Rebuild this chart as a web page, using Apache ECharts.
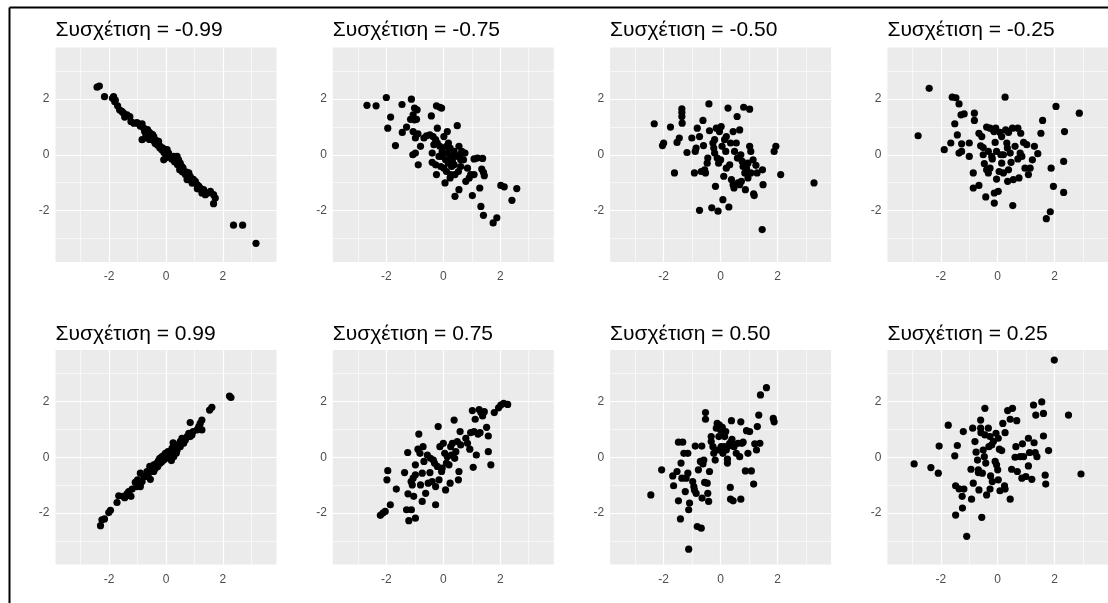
<!DOCTYPE html>
<html>
<head>
<meta charset="utf-8">
<script src="https://cdn.jsdelivr.net/npm/echarts@6/dist/echarts.min.js"></script>
<style>
html,body{margin:0;padding:0;background:#fff;}
#c{width:1108px;height:603px;}
</style>
</head>
<body>
<div id="c"></div>
<script>
const TITLES = ['Συσχέτιση = -0.99','Συσχέτιση = -0.75','Συσχέτιση = -0.50','Συσχέτιση = -0.25',
                'Συσχέτιση = 0.99','Συσχέτιση = 0.75','Συσχέτιση = 0.50','Συσχέτιση = 0.25'];
const MAJOR_TICKS = [-2, 0, 2];
const MINOR_TICKS = [-3, -1, 1, 3];

const corrNeg99 = [[-2.42,2.42],[-2.34,2.46],[-2.16,2.08],[-1.84,2.08],[-1.78,1.96],[-1.80,1.90],[-1.70,1.75],[-1.63,1.61],[-1.55,1.55],[-1.49,1.49],[-1.37,1.43],[-1.27,1.37],[-1.23,1.19],[-1.13,1.13],[-1.02,1.15],[-0.95,1.10],[-0.84,1.11],[-0.78,0.95],[-0.84,0.54],[-0.75,0.83],[-0.70,0.70],[-0.67,0.77],[-0.65,0.90],[-0.61,0.65],[-0.58,0.55],[-0.55,0.77],[-0.52,0.68],[-0.49,0.60],[-0.45,0.55],[-0.43,0.65],[-0.41,0.48],[-0.38,0.40],[-0.35,0.52],[-0.32,0.42],[-0.30,0.35],[-0.26,0.48],[-0.22,0.25],[-0.20,0.30],[-0.15,0.18],[-0.11,0.24],[-0.08,0.10],[-0.05,0.05],[-0.02,0.12],[0.04,0.18],[0.09,0.06],[-0.08,-0.18],[0.02,-0.10],[0.15,-0.06],[0.20,-0.15],[0.27,-0.06],[0.30,-0.25],[0.39,-0.06],[0.44,-0.18],[0.40,-0.35],[0.50,-0.30],[0.56,-0.42],[0.48,-0.54],[0.52,-0.50],[0.62,-0.60],[0.60,-0.48],[0.68,-0.71],[0.72,-0.62],[0.80,-0.65],[0.85,-0.77],[0.74,-0.89],[0.78,-0.82],[0.91,-0.95],[0.96,-0.88],[1.03,-0.95],[1.09,-1.07],[1.15,-1.12],[1.20,-1.19],[1.32,-1.25],[1.26,-1.37],[1.38,-1.43],[1.45,-1.38],[1.56,-1.31],[1.67,-1.43],[1.73,-1.55],[1.67,-1.75],[2.37,-2.52],[2.69,-2.52],[3.16,-3.17],[-1.88,2.02],[-1.45,1.35],[-0.90,1.02],[-0.72,0.60],[-0.60,0.82],[-0.47,0.72],[0.06,-0.02],[0.34,-0.14],[0.58,-0.62],[0.92,-1.02],[1.10,-1.22]];

const corrNeg75 = [[-2.68,1.77],[-2.36,1.75],[-2.00,2.05],[-1.95,0.95],[-1.85,1.35],[-1.68,0.33],[-1.45,1.80],[-1.44,0.80],[-1.29,0.99],[-1.12,1.99],[-1.15,1.27],[-1.06,1.43],[-1.01,1.67],[-0.92,1.61],[-1.01,1.25],[-0.94,1.27],[-1.06,0.83],[-0.89,0.75],[-0.98,0.60],[-0.98,0.06],[-1.07,0.00],[-0.80,0.30],[-0.88,-0.36],[-0.68,0.60],[-0.59,0.68],[-0.47,0.71],[-0.42,1.39],[-0.36,0.65],[-0.27,0.54],[-0.21,0.95],[-0.24,1.75],[-0.12,1.70],[-0.06,1.67],[-0.33,0.36],[-0.21,0.42],[-0.39,0.06],[-0.39,-0.27],[-0.27,-0.36],[-0.24,-0.71],[-0.15,-0.06],[-0.12,0.30],[-0.04,0.12],[-0.09,-0.42],[0.02,0.65],[0.14,0.83],[0.08,-0.18],[0.14,0.06],[0.18,0.42],[0.24,0.24],[0.26,-0.06],[0.32,-0.24],[0.38,0.12],[0.38,-0.36],[0.02,-0.48],[0.06,-1.01],[0.24,-0.83],[0.41,-0.71],[0.49,1.04],[0.55,0.30],[0.59,0.00],[0.65,0.12],[0.71,-0.18],[0.61,-0.42],[0.53,-0.60],[0.41,-1.49],[0.55,-1.25],[0.85,-0.48],[0.79,-0.95],[0.91,-0.83],[0.96,-0.71],[1.08,-0.71],[1.02,-1.46],[1.08,-0.15],[1.20,-0.12],[1.38,-0.13],[1.28,-1.19],[1.35,-0.51],[1.41,-0.63],[1.44,-0.75],[1.32,-1.85],[1.41,-2.17],[1.75,-2.44],[1.88,-2.26],[2.02,-1.10],[2.14,-1.15],[2.41,-1.63],[2.58,-1.21],[0.76,0.06],[0.61,-0.18],[0.44,-0.06],[0.18,-0.30],[0.11,-0.60],[0.26,-0.71],[-0.04,-0.06],[0.11,0.30],[0.29,-0.42]];

const corrNeg50 = [[-2.33,1.11],[-2.04,0.33],[-2.00,0.42],[-1.76,0.99],[-1.62,-0.65],[-1.53,0.44],[-1.45,0.60],[-1.36,1.64],[-1.36,1.51],[-1.36,1.37],[-1.35,1.13],[-1.18,0.08],[-1.01,0.60],[-0.92,-0.65],[-0.89,0.12],[-0.82,0.95],[-0.86,0.24],[-0.74,0.65],[-0.74,-1.99],[-0.68,-0.60],[-0.62,1.23],[-0.60,0.33],[-0.53,-0.65],[-0.47,-0.30],[-0.45,-0.12],[-0.41,1.82],[-0.39,0.86],[-0.31,-1.90],[-0.27,0.42],[-0.24,0.24],[-0.21,0.06],[-0.18,-1.13],[-0.15,0.95],[-0.12,-0.12],[-0.09,-2.02],[-0.04,0.83],[0.00,-0.18],[0.02,1.01],[0.05,0.30],[0.08,-1.61],[0.11,-0.77],[0.14,0.54],[0.18,0.12],[0.20,0.65],[0.26,1.67],[0.29,-1.87],[0.32,-0.36],[0.35,0.42],[0.38,-0.89],[0.44,0.83],[0.47,-1.19],[0.49,0.12],[0.55,0.42],[0.58,1.37],[0.59,-0.12],[0.61,-1.01],[0.67,0.89],[0.71,0.00],[0.73,-0.95],[0.76,-0.24],[0.81,1.70],[0.85,-0.65],[0.87,-1.25],[0.91,-0.48],[0.96,-0.83],[1.02,1.63],[1.02,0.30],[1.06,0.12],[1.06,-0.65],[1.14,-0.18],[1.16,-1.40],[1.24,-0.38],[1.28,-0.65],[1.47,-0.54],[1.49,-1.07],[1.46,-2.68],[1.88,0.12],[1.94,0.30],[2.11,-0.71],[3.28,-1.01],[0.96,-0.30],[0.79,-0.42],[0.67,-1.07],[0.44,-1.07],[0.20,-0.48],[-0.07,-0.30],[-0.21,0.54],[-0.56,-0.54],[1.18,-1.46]];

const corrNeg25 = [[-2.80,0.68],[-2.41,2.38],[-1.88,0.18],[-1.65,0.42],[-1.60,2.06],[-1.47,2.04],[-1.51,1.11],[-1.42,0.71],[-1.36,1.82],[-1.29,1.43],[-1.18,1.46],[-1.27,0.39],[-1.36,0.06],[-1.27,0.12],[-1.00,0.42],[-1.00,-0.06],[-0.82,1.49],[-0.82,1.23],[-0.86,-0.65],[-0.86,-1.19],[-0.66,-1.10],[-0.66,0.77],[-0.56,0.65],[-0.60,0.32],[-0.51,0.26],[-0.51,0.00],[-0.47,-0.32],[-0.42,-1.51],[-0.39,0.99],[-0.39,-0.54],[-0.33,-0.65],[-0.27,0.95],[-0.21,-0.06],[-0.19,-0.15],[-0.15,0.89],[-0.13,0.83],[-0.12,-1.37],[-0.12,-1.73],[-0.09,0.44],[-0.07,0.95],[-0.04,0.12],[-0.04,-0.87],[0.02,-1.31],[0.05,-0.60],[0.08,0.80],[0.11,0.00],[0.14,-0.30],[0.20,0.00],[0.26,2.06],[0.28,0.89],[0.32,0.42],[0.34,0.24],[0.35,-0.95],[0.38,0.80],[0.38,-0.54],[0.44,0.06],[0.47,-0.27],[0.52,0.95],[0.53,-1.82],[0.55,-0.89],[0.71,0.95],[0.71,-0.15],[0.75,-0.83],[0.81,0.77],[0.85,-0.06],[0.91,0.44],[0.96,-0.48],[1.02,0.36],[1.08,-0.71],[1.14,-0.48],[1.22,-0.18],[1.29,0.30],[1.41,0.04],[1.52,0.77],[1.58,1.23],[1.88,-0.48],[1.85,-2.04],[1.71,-2.29],[1.96,-1.13],[2.05,1.73],[2.32,-0.24],[2.32,-1.35],[2.35,0.83],[2.87,1.49],[0.61,0.30],[0.79,0.06],[0.14,0.65],[-0.33,0.12],[0.20,-0.65],[-0.27,-0.48]];

const corrPos99 = [[-2.30,-2.45],[-2.25,-2.24],[-2.16,-2.21],[-2.01,-1.98],[-1.95,-1.90],[-1.72,-1.62],[-1.66,-1.38],[-1.51,-1.40],[-1.31,-1.23],[-1.23,-1.40],[-1.19,-1.14],[-1.08,-0.90],[-1.00,-0.81],[-0.90,-1.05],[-0.84,-0.87],[-0.90,-0.57],[-0.78,-0.69],[-0.67,-0.51],[-0.55,-0.79],[-0.57,-0.33],[-0.49,-0.45],[-0.43,-0.27],[-0.37,-0.39],[-0.32,-0.21],[-0.26,-0.12],[-0.20,-0.21],[-0.22,-0.04],[-0.14,0.02],[-0.08,-0.10],[-0.02,0.14],[0.04,0.02],[0.07,0.20],[0.15,0.08],[0.19,-0.12],[0.21,0.32],[0.27,0.20],[0.33,0.38],[0.25,0.52],[0.39,0.26],[0.44,0.44],[0.50,0.38],[0.56,0.68],[0.62,0.50],[0.74,0.74],[0.80,0.86],[0.85,0.74],[0.91,0.80],[0.85,1.24],[1.09,0.98],[1.15,1.10],[1.20,1.21],[1.26,1.33],[1.26,0.98],[1.53,1.69],[1.61,1.79],[2.23,2.19],[2.28,2.14],[-0.43,-0.51],[-0.29,-0.33],[-0.14,-0.15],[0.09,-0.04],[0.27,0.02],[0.36,0.14],[-0.06,0.08],[-1.02,-1.05],[-0.67,-0.69],[0.50,0.56],[0.68,0.62],[-1.37,-1.31],[-0.61,-0.57],[-0.95,-0.95],[-0.40,-0.35],[0.12,0.10],[0.30,0.28],[0.95,0.92],[-1.45,-1.45]];

const corrPos75 = [[-2.21,-2.08],[-2.12,-2.00],[-2.04,-1.94],[-1.95,-0.48],[-1.98,-0.81],[-1.86,-1.70],[-1.65,-1.14],[-1.36,-0.55],[-1.25,0.17],[-1.24,-1.31],[-1.29,-1.88],[-1.21,-2.27],[-1.12,-1.88],[-1.13,-0.87],[-1.09,-0.99],[-1.06,-0.75],[-1.04,-1.40],[-0.98,-2.18],[-0.98,-0.27],[-0.98,-0.63],[-0.89,0.29],[-0.86,0.83],[-0.82,0.14],[-0.80,-0.99],[-0.74,-0.57],[-0.74,-1.58],[-0.71,0.38],[-0.68,-0.15],[-0.62,-1.29],[-0.56,0.08],[-0.53,-0.93],[-0.47,-0.55],[-0.39,-0.87],[-0.35,-0.10],[-0.31,-0.21],[-0.27,-1.70],[-0.27,-1.05],[-0.21,-0.33],[-0.18,1.10],[-0.15,-0.81],[-0.12,0.38],[-0.06,-0.51],[-0.04,-0.39],[0.00,0.50],[0.05,0.14],[0.08,-1.17],[0.11,-0.21],[0.14,0.02],[0.20,-0.27],[0.24,-0.93],[0.28,0.08],[0.32,0.50],[0.38,1.33],[0.40,-0.04],[0.44,0.20],[0.49,0.56],[0.53,-0.81],[0.55,-0.51],[0.59,0.92],[0.61,0.44],[0.79,0.68],[0.85,0.50],[0.93,0.29],[0.96,0.88],[1.05,-0.36],[1.08,0.92],[1.02,1.67],[1.12,1.36],[1.16,0.08],[1.22,0.83],[1.26,1.71],[1.32,1.60],[1.38,1.48],[1.44,1.63],[1.52,1.07],[1.58,0.76],[1.58,0.20],[1.67,-0.27],[1.79,1.60],[1.94,1.77],[2.02,1.87],[2.12,1.93],[2.26,1.89],[1.29,0.88],[0.26,0.38],[-0.45,-0.04]];

const corrPos50 = [[-2.45,-1.35],[-2.07,-0.45],[-1.68,-0.67],[-1.65,-1.02],[-1.53,-0.51],[-1.48,-1.56],[-1.48,0.54],[-1.41,-2.21],[-1.39,-0.21],[-1.33,0.54],[-1.36,-0.75],[-1.29,0.14],[-1.24,-1.23],[-1.21,-0.75],[-1.15,0.14],[-1.15,-0.57],[-1.12,-3.29],[-1.09,-1.64],[-1.12,-1.88],[-0.98,-0.87],[-0.94,-1.05],[-0.89,0.40],[-0.92,-1.17],[-0.86,-1.29],[-0.82,-2.48],[-0.78,-0.45],[-0.71,-0.15],[-0.68,-2.54],[-0.66,0.40],[-0.65,-1.46],[-0.62,-0.24],[-0.59,-0.10],[-0.56,-0.90],[-0.53,1.60],[-0.53,1.36],[-0.47,-0.93],[-0.45,-1.29],[-0.42,-1.58],[-0.39,-0.51],[-0.33,0.56],[-0.27,0.38],[-0.24,0.14],[-0.19,-0.10],[-0.15,1.04],[-0.12,1.21],[-0.09,0.26],[-0.06,0.74],[-0.04,1.15],[0.00,0.98],[0.02,0.38],[0.06,1.07],[0.08,0.14],[0.11,0.80],[0.14,0.38],[0.18,0.92],[0.20,0.26],[0.24,-0.21],[0.24,-0.07],[0.28,0.40],[0.32,0.50],[0.34,-1.08],[0.35,-1.50],[0.38,1.31],[0.40,0.64],[0.44,-1.56],[0.47,0.38],[0.55,0.14],[0.61,0.50],[0.67,0.02],[0.71,1.27],[0.71,-1.50],[0.75,0.50],[0.79,0.54],[0.87,-0.49],[0.91,0.95],[0.96,0.14],[1.02,0.92],[1.08,-0.49],[1.16,-0.96],[1.20,0.48],[1.26,0.26],[1.29,1.10],[1.34,1.51],[1.38,0.50],[1.40,2.23],[1.61,2.49],[1.85,1.39],[1.88,1.27],[-0.33,0.74],[0.14,0.74],[0.38,0.56]];

const corrPos25 = [[-2.94,-0.24],[-2.35,-0.37],[-2.09,-0.57],[-2.06,0.40],[-1.74,1.15],[-1.51,0.05],[-1.48,-1.02],[-1.48,-2.07],[-1.42,0.42],[-1.36,-1.13],[-1.25,-1.40],[-1.24,-1.82],[-1.21,0.92],[-1.19,-1.14],[-1.09,-2.83],[-0.94,-0.43],[-0.92,-1.50],[-0.88,1.04],[-0.86,-0.93],[-0.80,0.56],[-0.76,0.18],[-0.71,-0.10],[-0.68,-0.55],[-0.66,-1.17],[-0.60,1.04],[-0.60,1.33],[-0.59,0.88],[-0.56,-2.15],[-0.54,-0.57],[-0.51,0.26],[-0.47,0.02],[-0.45,0.80],[-0.45,1.75],[-0.42,-0.21],[-0.39,-1.35],[-0.33,1.04],[-0.31,0.38],[-0.27,-1.14],[-0.25,-0.67],[-0.21,0.44],[-0.19,-0.87],[-0.15,0.56],[-0.09,-0.15],[-0.06,0.86],[-0.04,-0.27],[0.00,-0.45],[0.02,0.68],[0.02,-0.81],[0.06,0.29],[0.08,-1.20],[0.14,0.24],[0.18,1.21],[0.24,-1.02],[0.26,0.88],[0.26,-1.14],[0.35,1.67],[0.44,1.36],[0.44,-1.50],[0.49,-0.43],[0.52,1.75],[0.61,0.00],[0.64,0.38],[0.67,1.31],[0.69,-0.51],[0.79,0.02],[0.85,-0.75],[0.87,0.48],[0.91,0.02],[0.99,-0.69],[1.08,0.68],[1.08,-0.31],[1.12,0.17],[1.20,-0.79],[1.26,1.87],[1.28,0.52],[1.32,0.17],[1.34,1.51],[1.38,0.02],[1.55,1.98],[1.61,1.57],[1.61,0.76],[1.67,-0.64],[1.69,-0.96],[1.79,0.24],[1.99,3.48],[2.49,1.51],[2.93,-0.60],[-0.27,0.74],[-0.68,-0.45]];

const PANELS = [corrNeg99, corrNeg75, corrNeg50, corrNeg25, corrPos99, corrPos75, corrPos50, corrPos25];

const LEFTS = [55.5, 332.8, 610.1, 887.4];
const TOPS = [47.5, 350];
const TITLE_TOPS = [19.5, 323.5];
const PW = 221, PH = 214.5;
const XR = 3.88, YR = 3.84;

const chart = echarts.init(document.getElementById('c'), null, {renderer: 'canvas'});
const grid = [], xAxis = [], yAxis = [], series = [], graphic = [];

function gridLines(axisKey) {
  const d = [];
  MINOR_TICKS.forEach(v => { const o = {}; o[axisKey] = v; o.lineStyle = {color: '#ffffff', width: 0.6, type: 'solid'}; d.push(o); });
  MAJOR_TICKS.forEach(v => { const o = {}; o[axisKey] = v; o.lineStyle = {color: '#ffffff', width: 1.2, type: 'solid'}; d.push(o); });
  return d;
}

const FONT = '"Liberation Sans", Arial, Helvetica, sans-serif';

PANELS.forEach((pts, i) => {
  const col = i % 4, row = Math.floor(i / 4);
  grid.push({left: LEFTS[col], top: TOPS[row], width: PW, height: PH, show: true, z: 0,
             backgroundColor: '#EBEBEB', borderWidth: 0, containLabel: false});
  xAxis.push({type: 'value', gridIndex: i, min: -XR, max: XR,
    axisLine: {show: false},
    axisTick: {show: true, length: 4, lineStyle: {color: '#333333', width: 1}, customValues: MAJOR_TICKS},
    axisLabel: {show: true, customValues: MAJOR_TICKS, color: '#4D4D4D', fontSize: 12, margin: 9,
                fontFamily: FONT},
    splitLine: {show: false}});
  yAxis.push({type: 'value', gridIndex: i, min: -YR, max: YR,
    axisLine: {show: false},
    axisTick: {show: true, length: 4, lineStyle: {color: '#333333', width: 1}, customValues: MAJOR_TICKS},
    axisLabel: {show: true, customValues: MAJOR_TICKS, color: '#4D4D4D', fontSize: 12, margin: 6,
                fontFamily: FONT},
    splitLine: {show: false}});
  series.push({type: 'scatter', xAxisIndex: i, yAxisIndex: i, data: [], z: 1, silent: true,
    markLine: {silent: true, z: 1, symbol: ['none', 'none'], label: {show: false}, animation: false,
               data: gridLines('xAxis').concat(gridLines('yAxis'))}});
  series.push({type: 'scatter', xAxisIndex: i, yAxisIndex: i, data: pts, z: 4,
    symbol: 'circle', symbolSize: 7.2, itemStyle: {color: '#000000', opacity: 1}, animation: false});
  graphic.push({type: 'text', left: LEFTS[col], top: TITLE_TOPS[row], z: 10,
    style: {text: TITLES[i], fill: '#000000', fontSize: 21, fontFamily: FONT}});
});

graphic.push({type: 'line', z: 10, shape: {x1: 9.5, y1: 7.5, x2: 1108, y2: 7.5}, style: {stroke: '#000', lineWidth: 2}});
graphic.push({type: 'line', z: 10, shape: {x1: 9.5, y1: 7.5, x2: 9.5, y2: 603}, style: {stroke: '#000', lineWidth: 2}});

chart.setOption({animation: false, backgroundColor: '#ffffff', grid, xAxis, yAxis, series, graphic});
</script>
</body>
</html>
